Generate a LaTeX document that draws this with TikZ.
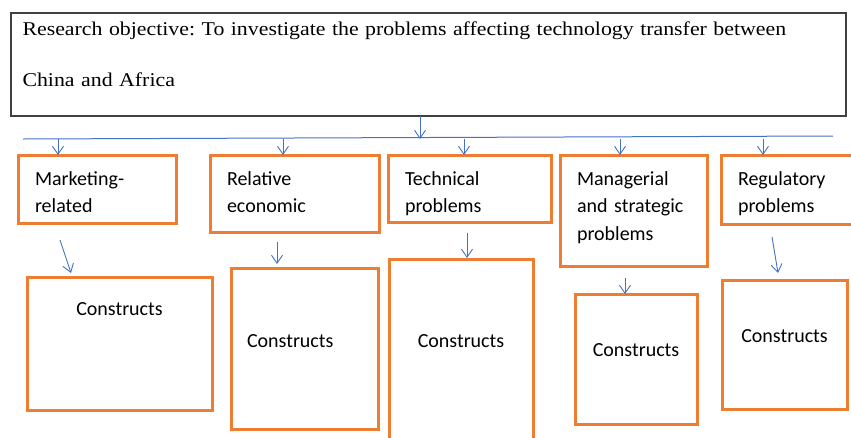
\documentclass[tikz,border=0pt]{standalone}
\usepackage{fontspec}
\usepackage{tikz}
\usetikzlibrary{positioning}
\usetikzlibrary{arrows.meta}
\usetikzlibrary{calc}
\newfontfamily\boxfont{Carlito}
\newfontfamily\objfont[FakeStretch=1.12]{Liberation Serif}
\definecolor{boxorange}{HTML}{ED7D31}
\definecolor{arrblue}{HTML}{4472C4}
\frenchspacing
\tikzset{box/.style={draw=boxorange, line width=3pt, anchor=north west, outer sep=0pt,
inner ysep=0pt, inner xsep=17pt, align=left,
font=\boxfont\fontsize{20}{27.5}\selectfont},
conbox/.style={box, inner xsep=0pt, align=center}}

\begin{document}
\begin{tikzpicture}[x=1pt, y=-1pt,
  arr/.style={draw=arrblue, line width=0.9pt, -{Straight Barb[length=8pt,width=11pt]}}]

				\useasboundingbox (0,0) rectangle (851,437);
				% research objective
				\node[draw=black!75, line width=1.3pt, anchor=north west, outer sep=0pt, inner ysep=0pt, inner xsep=11.5pt,
					align=left, text width=812pt, text height=22pt, text depth=81pt,
					font=\objfont\fontsize{19.5}{51}\selectfont] (obj) at (11,13)
					{Research objective: To investigate the problems affecting technology transfer between\\China and Africa};
				\coordinate (barL) at (23,139);
				\coordinate (barR) at (833,136);
				\draw[arrblue, line width=1pt] (barL) -- (barR);
				% problem groups
				\node[box, text width=124pt, text height=30pt, text depth=38pt] (mkt) at (18,155) {Marketing-\\related};
				\node[box, text width=135pt, text height=30pt, text depth=47pt] (rel) at (210,155) {Relative\\economic};
				\node[box, text width=129pt, text height=30pt, text depth=37pt] (tech) at (388,155) {Technical\\problems};
				\node[box, text width=113pt, text height=30pt, text depth=81pt] (mgr) at (560,155) {Managerial\\and strategic\\problems};
				\node[box, text width=126pt, text height=30pt, text depth=39pt] (reg) at (721,155) {Regulatory\\problems};
				% constructs
				\node[conbox, text width=185pt, text height=38pt, text depth=95pt] (con1) at (27,277) {Constructs};
				\node[box, inner xsep=16pt, text width=115pt, text height=79pt, text depth=82pt] (con2) at (231,268) {Constructs};
				\node[conbox, text width=144pt, text height=88pt, text depth=113pt] (con3) at (389,259) {Constructs};
				\node[conbox, text width=122pt, text height=62pt, text depth=68pt] (con4) at (575,294) {Constructs};
				\node[conbox, text width=125pt, text height=62pt, text depth=67pt] (con5) at (722,280) {Constructs};
				% arrows
				\draw[arr] ([xshift=-8.5pt]obj.south) -- ([xshift=-8.5pt]obj.south |- barL);
				\draw[arr] ([xshift=40pt]mkt.north west |- barL) -- ([xshift=40pt]mkt.north west);
				\draw[arr] ([xshift=73pt]rel.north west |- barL) -- ([xshift=73pt]rel.north west);
				\draw[arr] ([xshift=76pt]tech.north west |- barL) -- ([xshift=76pt]tech.north west);
				\draw[arr] ([xshift=60pt]mgr.north west |- barL) -- ([xshift=60pt]mgr.north west);
				\draw[arr] ([xshift=42pt]reg.north west |- barL) -- ([xshift=42pt]reg.north west);
				\draw[arr] ($(mkt.south west)+(42,17)$) -- ($(con1.north west)+(44,-4)$);
				\draw[arr] ($(rel.south west)+(67,10)$) -- ($(con2.north west)+(46,-4)$);
				\draw[arr] ($(tech.south west)+(79,11)$) -- ($(con3.north west)+(78,-1)$);
				\draw[arr] ($(mgr.south west)+(65,12)$) -- ($(con4.north west)+(50,0)$);
				\draw[arr] ($(reg.south west)+(51,13)$) -- ($(con5.north west)+(56,-7)$);
\end{tikzpicture}
\end{document}
